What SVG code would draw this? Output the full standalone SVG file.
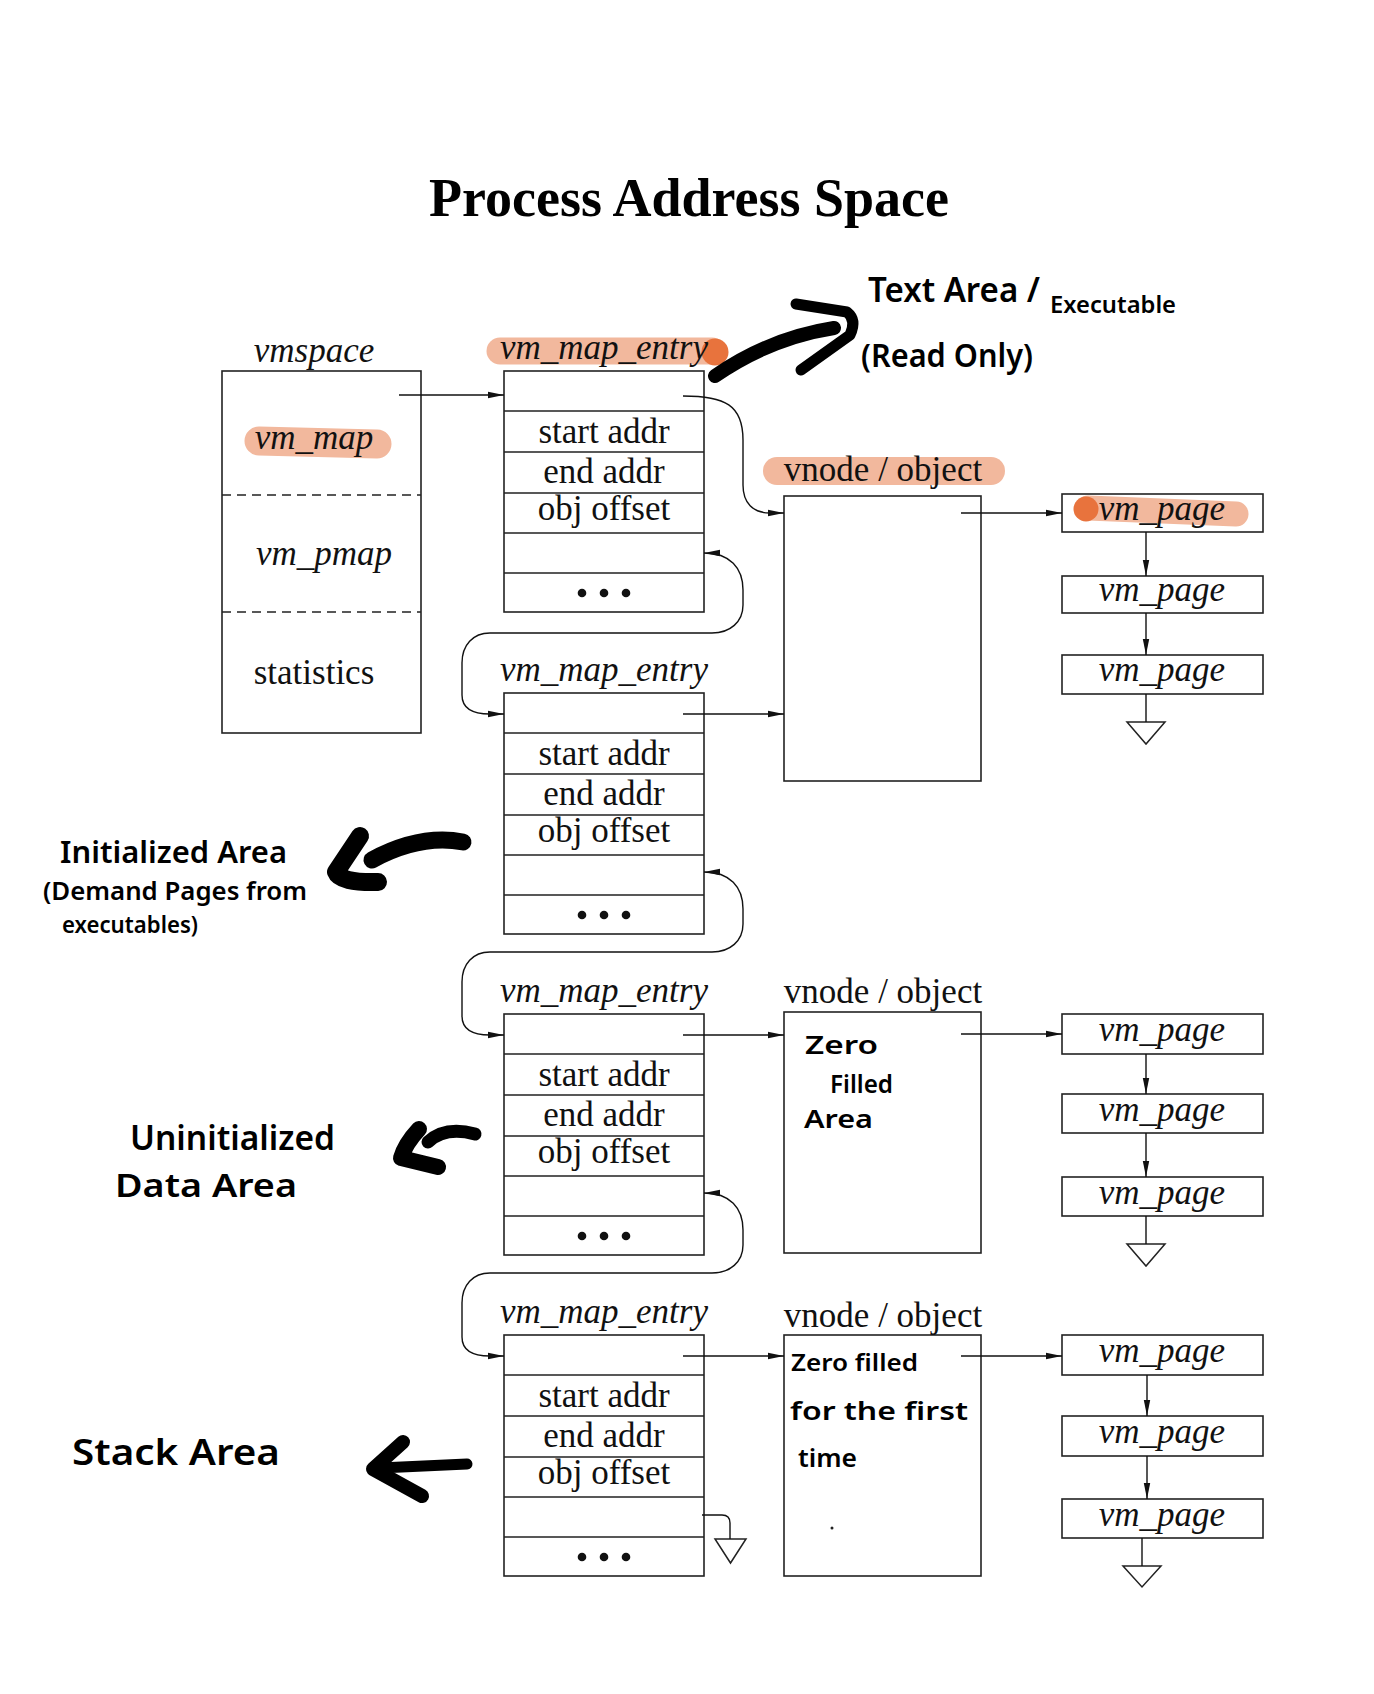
<svg xmlns="http://www.w3.org/2000/svg" width="1374" height="1694" viewBox="0 0 1374 1694">
<defs>
<marker id="ah" viewBox="0 0 16 8" refX="16" refY="4" markerWidth="16" markerHeight="8" markerUnits="userSpaceOnUse" orient="auto-start-reverse">
<path d="M0,0.8 L16,4 L0,7.2 Z" fill="#111"/>
</marker>
<style>
.box{fill:#fff;stroke:#222;stroke-width:1.6}
.ln{fill:none;stroke:#222;stroke-width:1.5}
.dash{fill:none;stroke:#222;stroke-width:1.5;stroke-dasharray:9 6}
.con{fill:none;stroke:#111;stroke-width:1.4}
.tri{fill:#fff;stroke:#222;stroke-width:1.5}
.rm{font-family:"Liberation Serif",serif;font-size:35px;fill:#111;text-anchor:middle}
.it{font-family:"Liberation Serif",serif;font-size:35px;font-style:italic;fill:#111;text-anchor:middle}
.title{font-family:"Liberation Serif",serif;font-size:54px;font-weight:bold;fill:#000;text-anchor:middle}
.hw{font-family:"Noto Sans",sans-serif;font-weight:600;fill:#000}
.hl{fill:none;stroke:#F2B89D;stroke-linecap:round}
.brush{fill:none;stroke:#000;stroke-linecap:round;stroke-linejoin:round}
</style>
</defs>
<rect width="1374" height="1694" fill="#fff"/>

<text class="title" x="689" y="216">Process Address Space</text>

<g id="highlights">
<line class="hl" x1="500" y1="351" x2="712" y2="351" stroke-width="27"/>
<circle cx="715" cy="352" r="13.5" fill="#E8733D"/>
<line class="hl" x1="777" y1="471" x2="991" y2="471" stroke-width="28"/>
</g>

<g id="vmspace">
<rect class="box" x="222" y="371" width="199" height="362"/>
<line class="hl" x1="259" y1="441" x2="377" y2="444" stroke-width="29"/>
<line class="dash" x1="222" y1="495" x2="421" y2="495"/>
<line class="dash" x1="222" y1="612" x2="421" y2="612"/>
<text class="it" x="314" y="362">vmspace</text>
<text class="it" x="314" y="449">vm_map</text>
<text class="it" x="324" y="565">vm_pmap</text>
<text class="rm" x="314" y="684">statistics</text>
</g>

<g id="entry1">
<rect class="box" x="504" y="371" width="200" height="241"/>
<path class="ln" d="M504,411H704M504,452H704M504,493H704M504,533H704M504,573H704"/>
<text class="it" x="604" y="359">vm_map_entry</text>
<text class="rm" x="604" y="443">start addr</text>
<text class="rm" x="604" y="483">end addr</text>
<text class="rm" x="604" y="520">obj offset</text>
<g fill="#111"><circle cx="582" cy="593" r="4.3"/><circle cx="604" cy="593" r="4.3"/><circle cx="626" cy="593" r="4.3"/></g>
</g>

<g id="entry2">
<rect class="box" x="504" y="693" width="200" height="241"/>
<path class="ln" d="M504,733H704M504,774H704M504,815H704M504,855H704M504,895H704"/>
<text class="it" x="604" y="681">vm_map_entry</text>
<text class="rm" x="604" y="765">start addr</text>
<text class="rm" x="604" y="805">end addr</text>
<text class="rm" x="604" y="842">obj offset</text>
<g fill="#111"><circle cx="582" cy="915" r="4.3"/><circle cx="604" cy="915" r="4.3"/><circle cx="626" cy="915" r="4.3"/></g>
</g>

<g id="entry3">
<rect class="box" x="504" y="1014" width="200" height="241"/>
<path class="ln" d="M504,1054H704M504,1095H704M504,1136H704M504,1176H704M504,1216H704"/>
<text class="it" x="604" y="1002">vm_map_entry</text>
<text class="rm" x="604" y="1086">start addr</text>
<text class="rm" x="604" y="1126">end addr</text>
<text class="rm" x="604" y="1163">obj offset</text>
<g fill="#111"><circle cx="582" cy="1236" r="4.3"/><circle cx="604" cy="1236" r="4.3"/><circle cx="626" cy="1236" r="4.3"/></g>
</g>

<g id="entry4">
<rect class="box" x="504" y="1335" width="200" height="241"/>
<path class="ln" d="M504,1375H704M504,1416H704M504,1457H704M504,1497H704M504,1537H704"/>
<text class="it" x="604" y="1323">vm_map_entry</text>
<text class="rm" x="604" y="1407">start addr</text>
<text class="rm" x="604" y="1447">end addr</text>
<text class="rm" x="604" y="1484">obj offset</text>
<g fill="#111"><circle cx="582" cy="1557" r="4.3"/><circle cx="604" cy="1557" r="4.3"/><circle cx="626" cy="1557" r="4.3"/></g>
</g>

<g id="vnode1">
<rect class="box" x="784" y="496" width="197" height="285"/>
<text class="rm" x="883" y="481">vnode / object</text>
</g>
<g id="vnode2">
<rect class="box" x="784" y="1012" width="197" height="241"/>
<text class="rm" x="883" y="1003">vnode / object</text>
<text class="hw" x="805" y="1054" font-size="26" textLength="73" lengthAdjust="spacingAndGlyphs">Zero</text>
<text class="hw" x="830" y="1093" font-size="26" textLength="63" lengthAdjust="spacingAndGlyphs">Filled</text>
<text class="hw" x="804" y="1128" font-size="26" textLength="69" lengthAdjust="spacingAndGlyphs">Area</text>
</g>
<g id="vnode3">
<rect class="box" x="784" y="1335" width="197" height="241"/>
<text class="rm" x="883" y="1327">vnode / object</text>
<text class="hw" x="791" y="1371" font-size="24" textLength="127" lengthAdjust="spacingAndGlyphs">Zero filled</text>
<text class="hw" x="790" y="1420" font-size="26" textLength="178" lengthAdjust="spacingAndGlyphs">for the first</text>
<text class="hw" x="798" y="1467" font-size="26" textLength="59" lengthAdjust="spacingAndGlyphs">time</text>
<circle cx="832" cy="1528" r="1.5" fill="#222"/>
</g>

<g id="pages1">
<rect class="box" x="1062" y="494" width="201" height="38"/>
<line class="hl" x1="1088" y1="508" x2="1236" y2="514" stroke-width="25"/>
<circle cx="1086" cy="509" r="12.5" fill="#E8733D"/>
<text class="it" x="1162" y="520">vm_page</text>
<rect class="box" x="1062" y="576" width="201" height="37"/>
<text class="it" x="1162" y="601">vm_page</text>
<rect class="box" x="1062" y="655" width="201" height="39"/>
<text class="it" x="1162" y="681">vm_page</text>
<polygon class="tri" points="1127,722 1165,722 1146,744"/>
</g>
<g id="pages3">
<rect class="box" x="1062" y="1014" width="201" height="40"/>
<text class="it" x="1162" y="1041">vm_page</text>
<rect class="box" x="1062" y="1094" width="201" height="39"/>
<text class="it" x="1162" y="1121">vm_page</text>
<rect class="box" x="1062" y="1177" width="201" height="39"/>
<text class="it" x="1162" y="1204">vm_page</text>
<polygon class="tri" points="1127,1244 1165,1244 1146,1266"/>
</g>
<g id="pages4">
<rect class="box" x="1062" y="1335" width="201" height="40"/>
<text class="it" x="1162" y="1362">vm_page</text>
<rect class="box" x="1062" y="1416" width="201" height="40"/>
<text class="it" x="1162" y="1443">vm_page</text>
<rect class="box" x="1062" y="1499" width="201" height="39"/>
<text class="it" x="1162" y="1526">vm_page</text>
<polygon class="tri" points="1123,1566 1161,1566 1142,1587"/>
</g>
<g id="nullentry">
<polygon class="tri" points="715,1539 746,1539 730.5,1563"/>
</g>

<g id="connectors">
<path class="con" d="M399,395H504" marker-end="url(#ah)"/>
<path class="con" d="M683,396 C725,396 743,405 743,440 L743,485 C743,503 753,513 770,513 L784,513" marker-end="url(#ah)"/>
<path class="con" d="M683,714H784" marker-end="url(#ah)"/>
<path class="con" d="M683,1035H784" marker-end="url(#ah)"/>
<path class="con" d="M683,1356H784" marker-end="url(#ah)"/>
<path class="con" d="M961,513H1062" marker-end="url(#ah)"/>
<path class="con" d="M961,1034H1062" marker-end="url(#ah)"/>
<path class="con" d="M961,1356H1062" marker-end="url(#ah)"/>
<path class="con" d="M704,553 C730,553 743,568 743,590 L743,605 C743,622 730,633 712,633 L490,633 C473,633 462,645 462,663 L462,695 C462,707 470,714 490,714 L504,714" marker-start="url(#ah)" marker-end="url(#ah)"/>
<path class="con" d="M704,872 C730,872 743,887 743,909 L743,924 C743,941 730,952 712,952 L490,952 C473,952 462,964 462,982 L462,1016 C462,1028 470,1035 490,1035 L504,1035" marker-start="url(#ah)" marker-end="url(#ah)"/>
<path class="con" d="M704,1193 C730,1193 743,1208 743,1230 L743,1245 C743,1262 730,1273 712,1273 L490,1273 C473,1273 462,1285 462,1303 L462,1337 C462,1349 470,1356 490,1356 L504,1356" marker-start="url(#ah)" marker-end="url(#ah)"/>
<path class="con" d="M702,1515 H722 Q730,1515 730,1523 V1539"/>
<path class="con" d="M1146,532V576" marker-end="url(#ah)"/>
<path class="con" d="M1146,613V655" marker-end="url(#ah)"/>
<path class="con" d="M1146,694V722"/>
<path class="con" d="M1146,1054V1094" marker-end="url(#ah)"/>
<path class="con" d="M1146,1133V1177" marker-end="url(#ah)"/>
<path class="con" d="M1146,1216V1244"/>
<path class="con" d="M1147,1375V1416" marker-end="url(#ah)"/>
<path class="con" d="M1147,1456V1499" marker-end="url(#ah)"/>
<path class="con" d="M1142,1538V1566"/>
</g>

<g id="annotations">
<path class="brush" d="M715,376 Q770,338 834,328" stroke-width="14"/>
<path class="brush" d="M796,304 L847,312 Q857,320 850,335 L801,370" stroke-width="11"/>
<text class="hw" x="868" y="302" font-size="35" textLength="172" lengthAdjust="spacingAndGlyphs">Text Area /</text>
<text class="hw" x="1050" y="313" font-size="23" textLength="126" lengthAdjust="spacingAndGlyphs">Executable</text>
<text class="hw" x="861" y="367" font-size="32" textLength="172" lengthAdjust="spacingAndGlyphs">(Read Only)</text>

<path class="brush" d="M463,842 Q420,834 372,860" stroke-width="17"/>
<path class="brush" d="M360,836 L336,872 Q340,883 378,882" stroke-width="18"/>
<text class="hw" x="60" y="863" font-size="30" textLength="227" lengthAdjust="spacingAndGlyphs">Initialized Area</text>
<text class="hw" x="43" y="900" font-size="26" textLength="264" lengthAdjust="spacingAndGlyphs">(Demand Pages from</text>
<text class="hw" x="62" y="933" font-size="24" textLength="136" lengthAdjust="spacingAndGlyphs">executables)</text>

<path class="brush" d="M475,1134 Q445,1126 428,1142" stroke-width="13"/>
<path class="brush" d="M419,1129 Q405,1144 401,1158 L438,1167" stroke-width="16"/>
<text class="hw" x="130" y="1150" font-size="34" textLength="205" lengthAdjust="spacingAndGlyphs">Uninitialized</text>
<text class="hw" x="115" y="1197" font-size="32" textLength="182" lengthAdjust="spacingAndGlyphs">Data Area</text>

<path class="brush" d="M467,1464 L380,1468" stroke-width="11"/>
<path class="brush" d="M403,1442 L373,1469 L422,1496" stroke-width="14"/>
<text class="hw" x="72" y="1465" font-size="36" textLength="208" lengthAdjust="spacingAndGlyphs">Stack Area</text>
</g>
</svg>
